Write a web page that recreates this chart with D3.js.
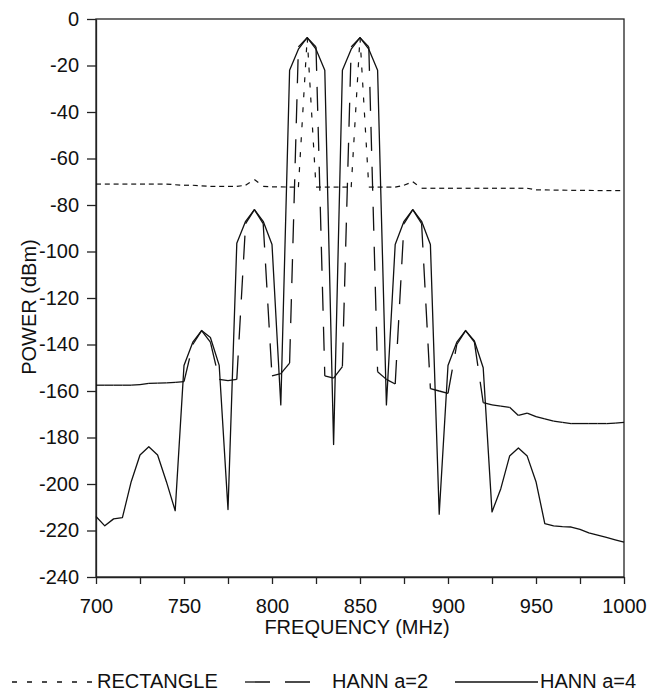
<!DOCTYPE html>
<html>
<head>
<meta charset="utf-8">
<script src="https://cdn.jsdelivr.net/npm/d3@7"></script>
<style>
body { margin: 0; background: #fff; }
text { font-family: "Liberation Sans", Arial, sans-serif; fill: #111; }
</style>
</head>
<body>
<div id="chart"></div>
<script>
// frequency grid (MHz), one point every 5 MHz
var freq = [700, 705, 710, 715, 720, 725, 730, 735, 740, 745,
    750, 755, 760, 765, 770, 775, 780, 785, 790, 795,
    800, 805, 810, 815, 820, 825, 830, 835, 840, 845,
    850, 855, 860, 865, 870, 875, 880, 885, 890, 895,
    900, 905, 910, 915, 920, 925, 930, 935, 940, 945,
    950, 955, 960, 965, 970, 975, 980, 985, 990, 995, 1000];

// power (dBm)
var rectangle = [-71, -71, -71, -71, -71, -71, -71, -71, -71, -71.3,
    -71.5, -71.5, -71.8, -72, -72, -72, -72, -71.5, -69, -72,
    -72.2, -72.2, -72.3, -72.3, -8, -72.3, -72.3, -72.3, -72.3, -72.3,
    -8, -72.3, -72.3, -72.3, -72.3, -71.5, -70, -72.8, -72.8, -72.8,
    -72.8, -72.8, -72.8, -72.8, -72.8, -72.8, -72.8, -72.8, -72.8, -72.8,
    -73.5, -73.5, -73.6, -73.6, -73.7, -73.7, -73.7, -73.8, -73.8, -73.8, -73.8];

var hann2 = [-157.5, -157.5, -157.5, -157.5, -157.5, -157.3, -156.7, -156.6, -156.5, -156.3,
    -156, -140, -134, -139, -155, -155.5, -155, -88, -82, -88,
    -153.5, -152.5, -148, -12, -8, -12, -153.5, -154.5, -149.5, -12,
    -8, -12, -151.7, -155, -157, -88, -82, -88, -159, -160,
    -161, -140, -134, -139, -165, -166, -166.5, -167, -170.5, -169.5,
    -171, -172, -173, -173.5, -174, -174, -174, -174, -174, -173.8, -173.5];

var hann4 = [-214, -218, -215, -214.5, -199, -187.5, -184, -187.5, -199, -211.5,
    -149, -139, -134, -137, -149, -211, -96.5, -87, -82, -87,
    -97, -166, -22, -13, -8, -13, -22, -183, -22, -13,
    -8, -13, -22, -166, -97, -87, -82, -87, -97, -213,
    -149, -139, -134, -138.5, -150, -212, -202, -188, -184.5, -188,
    -199, -217, -218, -218.3, -218.5, -219.5, -221, -222, -223, -224, -225];

var xTicks = d3.range(700, 1001, 25);
var yTicks = d3.range(-240, 1, 20);

var svg_width = 665;
var svg_height = 695;

var svg = d3.select("#chart").append("svg")
    .attr("width", svg_width)
    .attr("height", svg_height);

var x = d3.scaleLinear().domain([700, 1000]).range([96, 624]);
var y = d3.scaleLinear().domain([-240, 0]).range([577, 19]);

// frame (top and right sides)
svg.append("rect")
    .attr("x", x(700))
    .attr("y", y(0))
    .attr("width", x(1000) - x(700))
    .attr("height", y(-240) - y(0))
    .attr("fill", "none")
    .attr("stroke", "#222")
    .attr("stroke-width", 1.3);

var xAxis = svg.append("g")
    .attr("transform", "translate(0," + y(-240) + ")")
    .call(d3.axisBottom(x)
        .tickValues(xTicks)
        .tickSize(7)
        .tickSizeOuter(0)
        .tickPadding(15)
        .tickFormat(function(d) { return d % 50 === 0 ? d : ""; }));

var yAxis = svg.append("g")
    .attr("transform", "translate(" + x(700) + ",0)")
    .call(d3.axisLeft(y)
        .tickValues(yTicks)
        .tickSize(9)
        .tickSizeOuter(0)
        .tickPadding(8)
        .tickFormat(function(d) { return String(d); }));

svg.selectAll(".tick text")
    .style("font-size", "20px")
    .style("font-family", "'Liberation Sans', Arial, sans-serif")
    .attr("fill", "#111");
svg.selectAll(".domain, .tick line")
    .attr("stroke", "#222")
    .attr("stroke-width", 1.3);

var line = d3.line()
    .x(function(d) { return x(d[0]); })
    .y(function(d) { return y(d[1]); });

// the dash pattern starts over at every data point, as in the original plot
function segments(values) {
    var segs = [];
    for (var i = 0; i < freq.length - 1; i++) {
        segs.push([[freq[i], values[i]], [freq[i + 1], values[i + 1]]]);
    }
    return segs;
}

svg.append("g").selectAll("path")
    .data(segments(rectangle))
    .enter().append("path")
    .attr("d", line)
    .attr("fill", "none")
    .attr("stroke", "#111")
    .attr("stroke-width", 1.2)
    .attr("stroke-dasharray", "5,10");

svg.append("g").selectAll("path")
    .data(segments(hann2))
    .enter().append("path")
    .attr("d", line)
    .attr("fill", "none")
    .attr("stroke", "#111")
    .attr("stroke-width", 1.3)
    .attr("stroke-dasharray", "24,16");

svg.append("path")
    .datum(freq.map(function(f, i) { return [f, hann4[i]]; }))
    .attr("d", line)
    .attr("fill", "none")
    .attr("stroke", "#111")
    .attr("stroke-width", 1.3)
    .attr("stroke-linejoin", "round");

// axis titles
svg.append("text")
    .text("FREQUENCY (MHz)")
    .attr("x", 357)
    .attr("y", 634)
    .attr("text-anchor", "middle")
    .style("font-size", "20px");

svg.append("text")
    .text("POWER (dBm)")
    .attr("transform", "translate(36,307) rotate(-90)")
    .attr("text-anchor", "middle")
    .style("font-size", "20px");

// legend
var legend = [
    {name: "RECTANGLE", x1: 12, x2: 95, tx: 97, dash: "5,10"},
    {name: "HANN a=2", x1: 245, x2: 310, tx: 332, dash: "25,15"},
    {name: "HANN a=4", x1: 455, x2: 538, tx: 540, dash: null}
];

var item = svg.append("g").selectAll("g")
    .data(legend)
    .enter().append("g");

item.append("line")
    .attr("x1", function(d) { return d.x1; })
    .attr("x2", function(d) { return d.x2; })
    .attr("y1", 682)
    .attr("y2", 682)
    .attr("stroke", "#111")
    .attr("stroke-width", 1.3)
    .attr("stroke-dasharray", function(d) { return d.dash; });

item.append("text")
    .text(function(d) { return d.name; })
    .attr("x", function(d) { return d.tx; })
    .attr("y", 688)
    .style("font-size", "20px");
</script>
</body>
</html>
